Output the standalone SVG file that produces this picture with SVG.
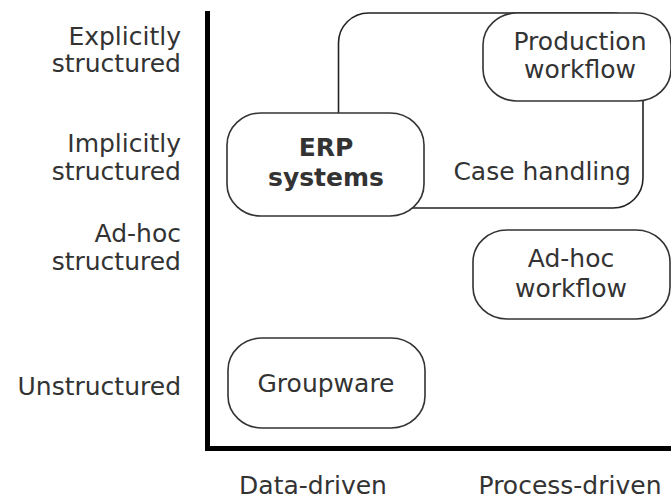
<svg xmlns="http://www.w3.org/2000/svg" width="671" height="501" viewBox="0 0 671 501">
<style>
text{font-family:"DejaVu Sans","Liberation Sans",sans-serif;font-size:25px;fill:#333}
.lbl{text-anchor:end}
.mid{text-anchor:middle}
.node{fill:#fff;stroke:#333;stroke-width:1.6}
.region{fill:none;stroke:#222;stroke-width:1.6}
.axis{fill:none;stroke:#000;stroke-width:5;stroke-linejoin:miter}
</style>
<rect width="671" height="501" fill="#fff"/>
<g id="axes">
<path class="axis" d="M207.5,11 V448.5 H671"/>
</g>
<g id="y-labels">
<text class="lbl" x="181" y="45">Explicitly</text>
<text class="lbl" x="181" y="72">structured</text>
<text class="lbl" x="181" y="152">Implicitly</text>
<text class="lbl" x="181" y="180">structured</text>
<text class="lbl" x="181" y="242">Ad-hoc</text>
<text class="lbl" x="181" y="270">structured</text>
<text class="lbl" x="181" y="395">Unstructured</text>
</g>
<g id="x-labels">
<text class="mid" x="313" y="494">Data-driven</text>
<text class="mid" x="570" y="494">Process-driven</text>
</g>
<g id="case-handling">
<rect class="region" x="338.5" y="13" width="304.5" height="195" rx="30" ry="30"/>
<text class="lbl" x="631" y="180">Case handling</text>
</g>
<g id="production-workflow">
<rect class="node" x="483" y="13" width="188" height="88" rx="34" ry="32"/>
<text class="mid" x="580" y="50">Production</text>
<text class="mid" x="580" y="78">workflow</text>
</g>
<g id="erp-systems">
<rect class="node" x="227" y="113" width="197" height="103" rx="34" ry="32"/>
<text class="mid" x="326" y="156" font-weight="bold">ERP</text>
<text class="mid" x="326" y="186" font-weight="bold">systems</text>
</g>
<g id="adhoc-workflow">
<rect class="node" x="473" y="230" width="197" height="89" rx="34" ry="32"/>
<text class="mid" x="571" y="267">Ad-hoc</text>
<text class="mid" x="571" y="297">workflow</text>
</g>
<g id="groupware">
<rect class="node" x="228" y="338" width="197" height="90" rx="34" ry="32"/>
<text class="mid" x="326" y="392">Groupware</text>
</g>
</svg>
